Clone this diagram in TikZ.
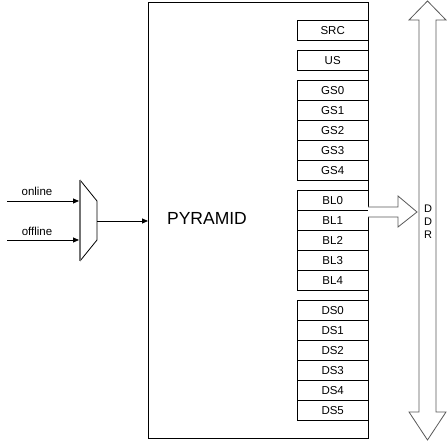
\documentclass[tikz,border=0pt]{standalone}
\usepackage{fontspec}
\setmainfont{Liberation Sans}
\usetikzlibrary{arrows.meta}
\begin{document}
\begin{tikzpicture}[x=1pt,y=1pt,
  reg/.style={draw=black, fill=white, minimum width=71pt, minimum height=20pt, inner sep=0pt, font=\fontsize{11.5}{13}\selectfont, anchor=north west},
  wire/.style={draw=black, line width=0.8pt, -{Triangle[length=6pt,width=5pt]}},
  hollow/.style={draw=black!65, fill=white, line width=0.8pt, line join=miter},
  lbl/.style={font=\fontsize{11.5}{13}\selectfont, inner sep=0pt}]
\useasboundingbox (0,0) rectangle (447,442);
% main block
\node[draw=black, line width=0.8pt, minimum width=220pt, minimum height=436pt, inner sep=0pt, anchor=north west] (main) at (148,440) {};
\node[font=\fontsize{17.5}{20}\selectfont, inner sep=0pt] (pyr) at (207,224) {PYRAMID};
% registers
\node[reg] (src) at (297,422) {SRC};
\node[reg] (us) at (297,392) {US};
\node[reg] (gs0) at (297,362) {GS0};
\node[reg] (gs1) at (297,342) {GS1};
\node[reg] (gs2) at (297,322) {GS2};
\node[reg] (gs3) at (297,302) {GS3};
\node[reg] (gs4) at (297,282) {GS4};
\node[reg] (bl0) at (297,252) {BL0};
\node[reg] (bl1) at (297,232) {BL1};
\node[reg] (bl2) at (297,212) {BL2};
\node[reg] (bl3) at (297,192) {BL3};
\node[reg] (bl4) at (297,172) {BL4};
\node[reg] (ds0) at (297,142) {DS0};
\node[reg] (ds1) at (297,122) {DS1};
\node[reg] (ds2) at (297,102) {DS2};
\node[reg] (ds3) at (297,82) {DS3};
\node[reg] (ds4) at (297,62) {DS4};
\node[reg] (ds5) at (297,42) {DS5};
% DDR double arrow
\draw[hollow] (427.5,441) -- (446,422) -- (436,422) -- (436,30) -- (446,30) -- (427.5,2) -- (409,30) -- (419,30) -- (419,422) -- (409,422) -- cycle;
\node[lbl, align=center, font=\fontsize{11}{13}\selectfont] (ddr) at (428,220) {D\\D\\R};
% block arrow BL1 -> DDR
\draw[hollow] (368,235) -- (398,235) -- (398,246) -- (417,230) -- (398,215) -- (398,225) -- (368,225);
% mux
\coordinate (m1) at (80,262);
\coordinate (m2) at (97,241);
\coordinate (m3) at (97,202);
\coordinate (m4) at (80,181);
\draw[black, line width=0.8pt] (m1) -- (m2) -- (m3) -- (m4);
\draw[black!55, line width=1.6pt] (m1) -- (m4);
\coordinate (muxin1) at (79,241);
\coordinate (muxin2) at (79,202);
\coordinate (muxout) at (97,221);
\coordinate (mainin) at (148,221);
\coordinate (on) at (7,241);
\coordinate (off) at (7,202);
\draw[wire] (on) -- (muxin1);
\draw[wire] (off) -- (muxin2);
\draw[wire] (muxout) -- (mainin);
\node[lbl] (online) at (37,251) {online};
\node[lbl] (offline) at (37,211) {offline};
\end{tikzpicture}
\end{document}
